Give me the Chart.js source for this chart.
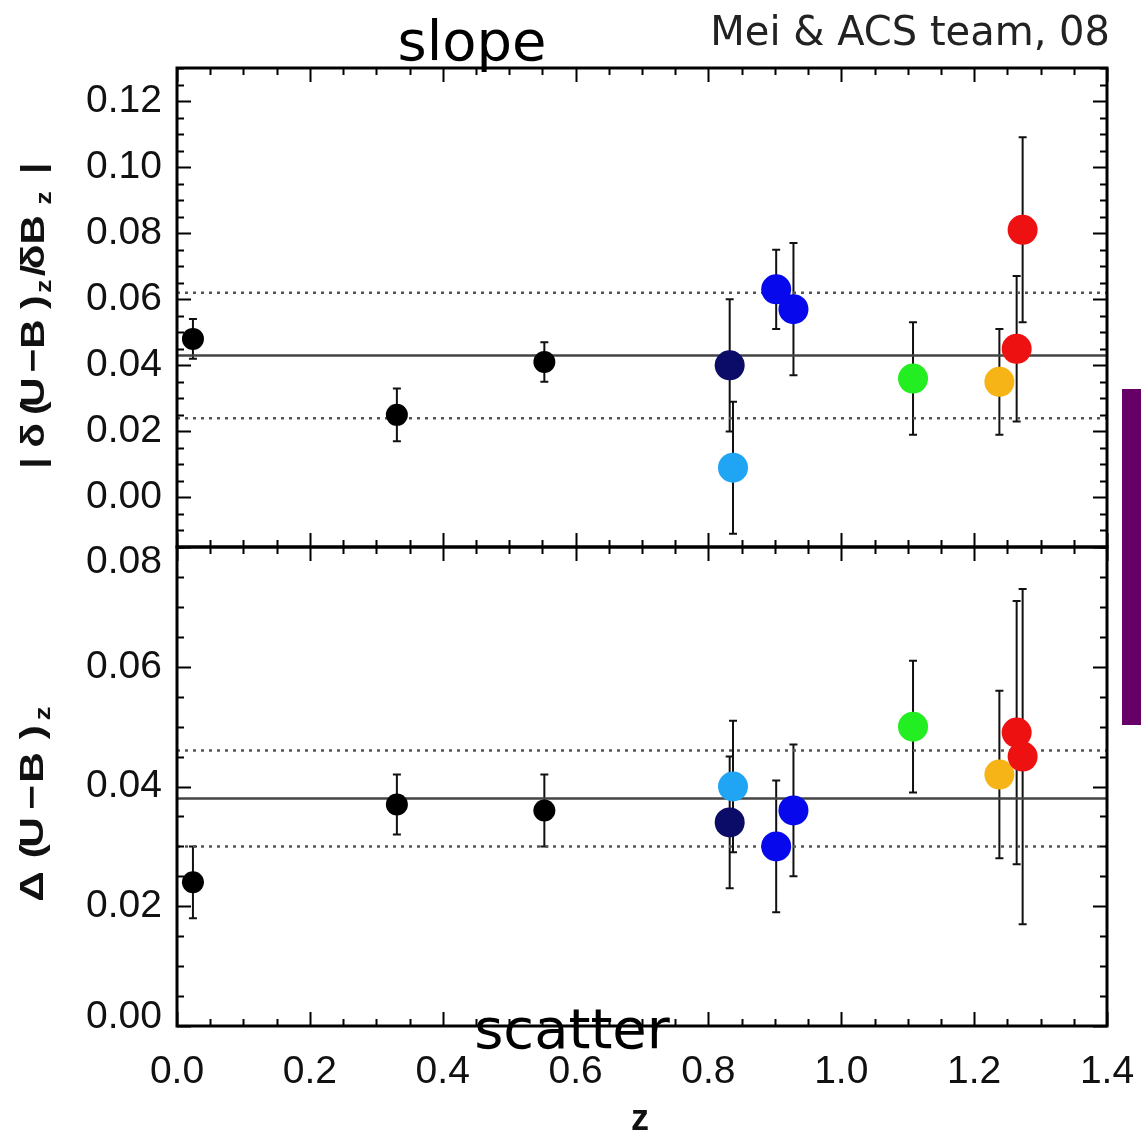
<!DOCTYPE html>
<html>
<head>
<meta charset="utf-8">
<script src="https://cdn.jsdelivr.net/npm/chart.js@4/dist/chart.umd.min.js"></script>
<style>
  html, body { margin: 0; padding: 0; background: #fff; }
  #wrap { position: relative; width: 1141px; height: 1137px; }
  canvas { display: block; }
</style>
</head>
<body>
<div id="wrap"><canvas id="c" width="1141" height="1137"></canvas></div>
<script>
// Cluster redshifts
const redshift = [0.024, 0.331, 0.553, 0.832, 0.837, 0.902, 0.928, 1.108, 1.238, 1.264, 1.273];
// Colour-magnitude slope |d(U-B)z / dBz| and its error
const slopeValues = [0.048, 0.025, 0.041, 0.040, 0.009, 0.063, 0.057, 0.036, 0.035, 0.045, 0.081];
const slopeErrors = [0.006, 0.008, 0.006, 0.020, 0.020, 0.012, 0.020, 0.017, 0.016, 0.022, 0.028];
// Intrinsic scatter Delta(U-B)z and its error
const scatterValues = [0.024, 0.037, 0.036, 0.034, 0.040, 0.030, 0.036, 0.050, 0.042, 0.049, 0.045];
const scatterErrors = [0.006, 0.005, 0.006, 0.011, 0.011, 0.011, 0.011, 0.011, 0.014, 0.022, 0.028];
// Marker colours per cluster
const pointColors = ['#000000', '#000000', '#000000', '#0b0b68', '#1fa5f3', '#0808ec', '#0808ec',
                     '#22ee22', '#f6b417', '#ee1111', '#ee1111'];
const pointSizes = [11, 11, 11, 15, 15, 15, 15, 15, 15, 15, 15];
// Mean and dispersion levels
const slopeMean = 0.043, slopeLow = 0.024, slopeHigh = 0.062;
const scatterMean = 0.038, scatterLow = 0.030, scatterHigh = 0.046;
// Axis ticks
const xTickLabels = ['0.0', '0.2', '0.4', '0.6', '0.8', '1.0', '1.2', '1.4'];
const slopeTickLabels = ['0.00', '0.02', '0.04', '0.06', '0.08', '0.10', '0.12'];
const scatterTickLabels = ['0.00', '0.02', '0.04', '0.06', '0.08'];

const zMin = 0, zMax = 1.4;
const toPoints = (vals) => redshift.map((z, i) => ({ x: z, y: vals[i] }));
const hline = (v) => [{ x: zMin, y: v }, { x: zMax, y: v }];

const TICK_FONT = '39px "Liberation Sans", Arial, sans-serif';

function levelLine(v, axis, dashed) {
  return {
    type: 'line', data: hline(v), yAxisID: axis,
    borderColor: dashed ? '#555' : '#444', borderWidth: 2.5,
    borderDash: dashed ? [3, 5] : [], pointRadius: 0, order: 5
  };
}

// Vertical error bars beneath the markers
const errorBars = {
  id: 'errorBars',
  beforeDatasetsDraw(chart) {
    const ctx = chart.ctx, xs = chart.scales.x;
    const panels = [[chart.scales.ySlope, slopeValues, slopeErrors],
                    [chart.scales.yScatter, scatterValues, scatterErrors]];
    ctx.save();
    ctx.strokeStyle = '#111';
    ctx.lineWidth = 2;
    for (const [ys, vals, errs] of panels) {
      redshift.forEach((z, i) => {
        const px = xs.getPixelForValue(z);
        const top = ys.getPixelForValue(vals[i] + errs[i]);
        const bot = ys.getPixelForValue(vals[i] - errs[i]);
        ctx.beginPath();
        ctx.moveTo(px, top); ctx.lineTo(px, bot);
        ctx.moveTo(px - 4, top); ctx.lineTo(px + 4, top);
        ctx.moveTo(px - 4, bot); ctx.lineTo(px + 4, bot);
        ctx.stroke();
      });
    }
    ctx.restore();
  }
};

// Rotated axis title: glyphs widened, remaining length spread between them
function drawRotatedTitle(ctx, pieces, cy, baseX, length, size, stretch) {
  ctx.save();
  ctx.translate(baseX, cy);
  ctx.rotate(-Math.PI / 2);
  ctx.scale(stretch, 1);
  const len = length / stretch;
  const chars = [];
  for (const p of pieces) {
    for (const ch of p.t) chars.push({ ch, sub: !!p.sub });
  }
  const fontFor = (sub) => 'bold ' + (sub ? Math.round(size * 0.66) : size) + 'px "Liberation Sans", Arial, sans-serif';
  let natural = 0;
  for (const c of chars) { ctx.font = fontFor(c.sub); c.w = ctx.measureText(c.ch).width; natural += c.w; }
  const gap = Math.max(0, (len - natural) / (chars.length - 1));
  let x = -len / 2;
  ctx.fillStyle = '#111';
  ctx.textBaseline = 'alphabetic';
  for (const c of chars) {
    ctx.font = fontFor(c.sub);
    ctx.fillText(c.ch, x, c.sub ? size * 0.2 : 0);
    x += c.w + gap;
  }
  ctx.restore();
}

// Frames, inward ticks, labels and titles
const decorations = {
  id: 'decorations',
  afterDraw(chart) {
    const ctx = chart.ctx, xs = chart.scales.x;
    const L = chart.chartArea.left, R = chart.chartArea.right;
    const panels = [
      { ys: chart.scales.ySlope, labels: slopeTickLabels },
      { ys: chart.scales.yScatter, labels: scatterTickLabels }
    ];
    ctx.save();
    ctx.strokeStyle = '#000';
    for (const { ys, labels } of panels) {
      const top = ys.top, bot = ys.bottom;
      ctx.lineWidth = 3;
      ctx.strokeRect(L, top, R - L, bot - top);
      ctx.lineWidth = 2;
      ctx.beginPath();
      // y ticks every 0.005, major every 0.02
      const start = Math.ceil(ys.min / 0.005 - 1e-6);
      const end = Math.floor(ys.max / 0.005 + 1e-6);
      for (let k = start; k <= end; k++) {
        const p = Math.round(ys.getPixelForValue(k * 0.005)) + 0.5;
        const len = (k % 4 === 0) ? 14 : 7;
        ctx.moveTo(L, p); ctx.lineTo(L + len, p);
        ctx.moveTo(R, p); ctx.lineTo(R - len, p);
      }
      // x ticks every 0.05, major every 0.2
      for (let k = 0; k <= 28; k++) {
        const p = Math.round(xs.getPixelForValue(k * 0.05)) + 0.5;
        const len = (k % 4 === 0) ? 14 : 7;
        ctx.moveTo(p, top); ctx.lineTo(p, top + len);
        ctx.moveTo(p, bot); ctx.lineTo(p, bot - len);
      }
      ctx.stroke();
      // y tick labels, kept inside the panel at its edges
      ctx.fillStyle = '#111';
      ctx.font = TICK_FONT;
      ctx.textAlign = 'right';
      ctx.textBaseline = 'middle';
      for (const lab of labels) {
        let p = ys.getPixelForValue(parseFloat(lab));
        p = Math.max(top + 15, Math.min(bot - 9, p));
        ctx.fillText(lab, L - 15, p);
      }
    }

    // x tick labels
    ctx.fillStyle = '#111';
    ctx.font = TICK_FONT;
    ctx.textAlign = 'center';
    ctx.textBaseline = 'middle';
    xTickLabels.forEach((lab) => {
      ctx.fillText(lab, xs.getPixelForValue(parseFloat(lab)), 1072);
    });

    // axis titles
    drawRotatedTitle(ctx, [{ t: '| δ(U−B)' }, { t: 'z', sub: true }, { t: '/δB' }, { t: 'z', sub: true }, { t: ' |' }],
                     310, 44, 306, 34, 1.2);
    drawRotatedTitle(ctx, [{ t: 'Δ(U−B)' }, { t: 'z', sub: true }], 793, 43, 187, 34, 1.25);
    ctx.fillStyle = '#111';
    ctx.font = 'bold 36px "Liberation Sans", Arial, sans-serif';
    ctx.textAlign = 'center';
    ctx.textBaseline = 'middle';
    ctx.fillText('z', 640, 1120);

    // side marker bar
    ctx.fillStyle = '#660066';
    ctx.fillRect(1122, 389, 25, 336);

    // panel captions
    ctx.fillStyle = '#000';
    ctx.font = '56px "DejaVu Sans", sans-serif';
    ctx.textAlign = 'center';
    ctx.textBaseline = 'alphabetic';
    ctx.fillText('slope', 472, 60);
    ctx.fillText('scatter', 572, 1048);
    ctx.fillStyle = '#222';
    ctx.font = '40px "DejaVu Sans", sans-serif';
    ctx.textAlign = 'right';
    ctx.fillText('Mei & ACS team, 08', 1110, 45);
    ctx.restore();
  }
};

const hiddenGrid = { display: false };
const hiddenBorder = { display: false };

new Chart(document.getElementById('c'), {
  data: {
    datasets: [
      {
        type: 'scatter', label: 'slope', data: toPoints(slopeValues), yAxisID: 'ySlope',
        pointBackgroundColor: pointColors, pointBorderWidth: 0, pointRadius: pointSizes, order: 1
      },
      {
        type: 'scatter', label: 'scatter', data: toPoints(scatterValues), yAxisID: 'yScatter',
        pointBackgroundColor: pointColors, pointBorderWidth: 0, pointRadius: pointSizes, order: 1
      },
      levelLine(slopeMean, 'ySlope', false),
      levelLine(slopeLow, 'ySlope', true),
      levelLine(slopeHigh, 'ySlope', true),
      levelLine(scatterMean, 'yScatter', false),
      levelLine(scatterLow, 'yScatter', true),
      levelLine(scatterHigh, 'yScatter', true)
    ]
  },
  options: {
    responsive: false,
    animation: false,
    events: [],
    layout: { padding: { left: 0, right: 34, top: 68, bottom: 0 } },
    plugins: { legend: { display: false }, tooltip: { enabled: false } },
    scales: {
      x: {
        type: 'linear', position: 'bottom', min: zMin, max: zMax,
        grid: { display: false, drawTicks: false }, border: hiddenBorder,
        ticks: { display: false, stepSize: 0.2 },
        afterFit: (s) => { s.height = 111; }
      },
      ySlope: {
        type: 'linear', position: 'left', stack: 'panels', stackWeight: 1, weight: 2,
        min: -0.015, max: 0.13, grid: hiddenGrid, border: hiddenBorder,
        ticks: { display: false },
        afterFit: (s) => { s.width = 177; }
      },
      yScatter: {
        type: 'linear', position: 'left', stack: 'panels', stackWeight: 1, weight: 1,
        min: 0, max: 0.08, grid: hiddenGrid, border: hiddenBorder,
        ticks: { display: false },
        afterFit: (s) => { s.width = 177; }
      }
    }
  },
  plugins: [errorBars, decorations]
});
</script>
</body>
</html>
